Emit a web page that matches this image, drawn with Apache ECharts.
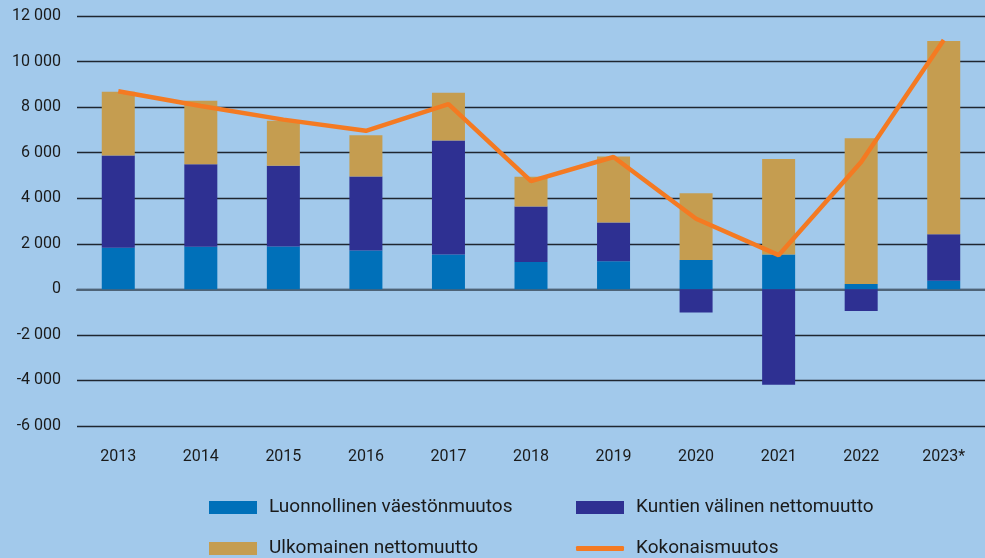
<!DOCTYPE html>
<html>
<head>
<meta charset="utf-8">
<script src="https://cdn.jsdelivr.net/npm/echarts@6/dist/echarts.min.js"></script>
<style>
html, body { margin: 0; padding: 0; background: #a2c9eb; }
#chart { width: 985px; height: 558px; }
</style>
</head>
<body>
<div id="chart"></div>
<script>
var years = ['2013', '2014', '2015', '2016', '2017', '2018', '2019', '2020', '2021', '2022', '2023*'];
var natural = [1830, 1870, 1880, 1700, 1530, 1200, 1230, 1290, 1530, 230, 380];
var municipal = [4050, 3620, 3550, 3250, 5000, 2440, 1700, -1020, -4190, -950, 2040];
var foreign = [2790, 2790, 1970, 1810, 2100, 1300, 2900, 2930, 4190, 6400, 8480];
var total = [8700, 8050, 7450, 6960, 8130, 4750, 5810, 3100, 1500, 5590, 10950];

var names = ['Luonnollinen väestönmuutos', 'Kuntien välinen nettomuutto', 'Ulkomainen nettomuutto', 'Kokonaismuutos'];
var colors = ['#0070b9', '#2e3092', '#c59d50', '#f47a22'];

var chart = echarts.init(document.getElementById('chart'));

function fmt(v) {
    var s = String(Math.abs(v));
    s = s.replace(/\B(?=(\d{3})+(?!\d))/g, ' ');
    return (v < 0 ? '-' : '') + s;
}

// one legend per item so the two columns line up like the original
function legendItem(i, left, top, icon) {
    return {
        left: left,
        top: top,
        padding: 0,
        itemWidth: 48,
        itemHeight: icon === 'line' ? 5 : 13,
        icon: icon === 'line' ? 'roundRect' : 'rect',
        data: [names[i]],
        textStyle: { fontFamily: 'Roboto', fontSize: 19, color: '#1a1a1a', padding: [0, 0, 0, 7] }
    };
}

var option = {
    backgroundColor: '#a2c9eb',
    color: colors,
    animation: false,
    textStyle: { fontFamily: 'Roboto' },
    legend: [
        legendItem(0, 209, 498),
        legendItem(1, 576, 498),
        legendItem(2, 209, 539),
        legendItem(3, 576, 539, 'line')
    ],
    grid: { left: 77, right: -7, top: 16, bottom: 132 },
    xAxis: {
        type: 'category',
        data: years,
        axisTick: { show: false },
        axisLine: { onZero: true, lineStyle: { color: '#4e6377', width: 2 } },
        axisLabel: { fontSize: 16, color: '#1a1a1a', margin: 23, interval: 0 }
    },
    yAxis: {
        type: 'value',
        min: -6000,
        max: 12000,
        interval: 2000,
        axisLine: { show: false },
        axisTick: { show: false },
        splitLine: { lineStyle: { color: '#1f2630', width: 1.3 } },
        axisLabel: { fontSize: 16, color: '#1a1a1a', margin: 16, formatter: fmt }
    },
    series: [
        { name: names[0], type: 'bar', stack: 'a', barWidth: 33, data: natural },
        { name: names[1], type: 'bar', stack: 'a', barWidth: 33, data: municipal },
        { name: names[2], type: 'bar', stack: 'a', barWidth: 33, data: foreign },
        {
            name: names[3], type: 'line', data: total,
            symbol: 'none', z: 5,
            lineStyle: { width: 4.5, color: colors[3] },
            itemStyle: { color: colors[3] }
        }
    ]
};

chart.setOption(option);
</script>
</body>
</html>
